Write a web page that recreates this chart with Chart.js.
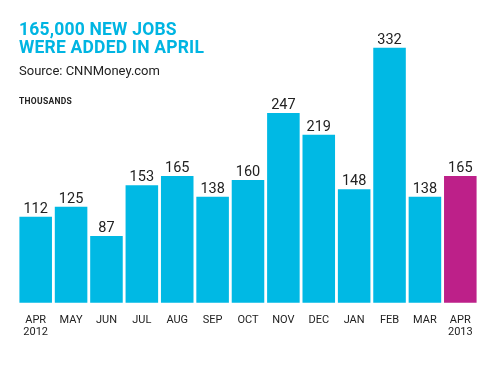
<!DOCTYPE html>
<html>
<head>
<meta charset="utf-8">
<script src="https://cdn.jsdelivr.net/npm/chart.js@4"></script>
<style>
    html, body { margin: 0; padding: 0; background: #fff; }
    #wrap { position: relative; width: 497px; height: 365px; overflow: hidden; }
    #jobsChart { position: absolute; left: 0; top: 0; }
    .txt { position: absolute; left: 19px; font-family: Roboto, sans-serif; white-space: nowrap; }
    .title { top: 20px; font-size: 17.5px; font-weight: 700; line-height: 18px; color: #00b5e2; letter-spacing: 0.2px; }
    .source { top: 63px; font-size: 13px; color: #222; }
    .unit { top: 96px; font-size: 8.5px; font-weight: 700; color: #222; letter-spacing: 0.3px; }
</style>
</head>
<body>
<div id="wrap">
    <canvas id="jobsChart" width="497" height="365"></canvas>
    <div class="txt title">165,000 NEW JOBS<br>WERE ADDED IN APRIL</div>
    <div class="txt source">Source: CNNMoney.com</div>
    <div class="txt unit">THOUSANDS</div>
</div>
<script>
const months = [['APR', '2012'], 'MAY', 'JUN', 'JUL', 'AUG', 'SEP', 'OCT', 'NOV', 'DEC', 'JAN', 'FEB', 'MAR', ['APR', '2013']];
const jobs = [112, 125, 87, 153, 165, 138, 160, 247, 219, 148, 332, 138, 165];

const cyan = '#00b9e4';
const magenta = '#bd2089';
const barColors = jobs.map((v, i) => i === jobs.length - 1 ? magenta : cyan);

// Value labels above each bar
const valueLabels = {
    id: 'valueLabels',
    afterDatasetsDraw(chart) {
        const { ctx } = chart;
        const meta = chart.getDatasetMeta(0);
        ctx.save();
        ctx.font = '14.5px Roboto, sans-serif';
        ctx.fillStyle = '#222';
        ctx.textAlign = 'center';
        ctx.textBaseline = 'alphabetic';
        meta.data.forEach((bar, i) => {
            ctx.fillText(jobs[i], bar.x, bar.y - 4);
        });
        ctx.restore();
    }
};

new Chart(document.getElementById('jobsChart'), {
    type: 'bar',
    data: {
        labels: months,
        datasets: [{
            data: jobs,
            backgroundColor: barColors,
            borderWidth: 0,
            barPercentage: 0.92,
            categoryPercentage: 1.0
        }]
    },
    options: {
        responsive: false,
        animation: false,
        layout: { padding: { left: 18, right: 19, top: 34, bottom: 22 } },
        plugins: {
            legend: { display: false },
            tooltip: { enabled: false }
        },
        scales: {
            x: {
                grid: { display: false, drawTicks: false },
                border: { display: false },
                ticks: {
                    color: '#222',
                    font: { family: 'Roboto', size: 11, lineHeight: 12 / 11 },
                    padding: 5,
                    maxRotation: 0,
                    autoSkip: false
                }
            },
            y: {
                display: false,
                min: -8,
                max: 350
            }
        }
    },
    plugins: [valueLabels]
});
</script>
</body>
</html>
